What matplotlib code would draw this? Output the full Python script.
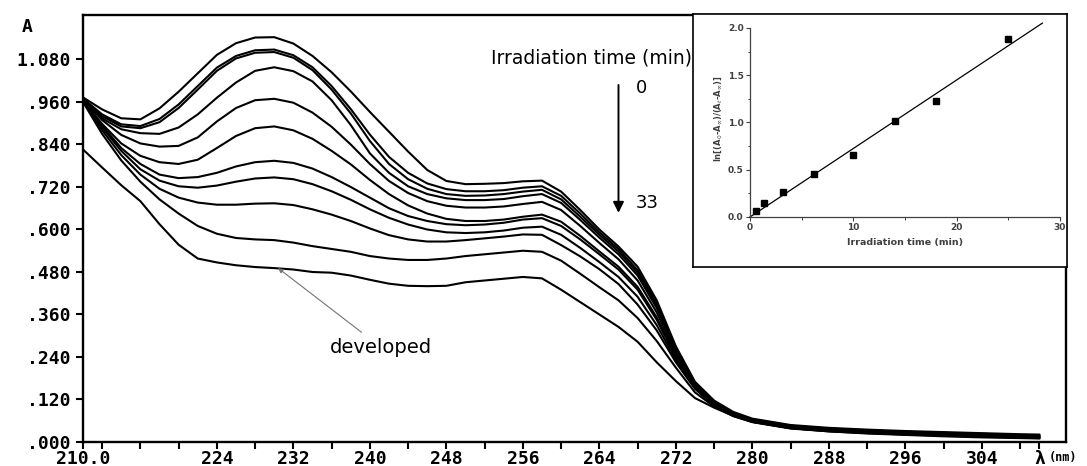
import numpy as np
import matplotlib.pyplot as plt
from matplotlib.ticker import FixedLocator, FuncFormatter, MultipleLocator

# ------------------------------------------------------------
# data (absorbance vs wavelength)
# ------------------------------------------------------------
wavelength = [210, 212, 214, 216, 218, 220, 222, 224, 226, 228,
              230, 232, 234, 236, 238, 240, 242, 244, 246, 248,
              250, 252, 254, 256, 258, 260, 262, 264, 266, 268,
              270, 272, 274, 276, 278, 280,
              284, 288, 292, 296, 300, 304, 308, 310]

abs_1 = [0.973, 0.939, 0.914, 0.911, 0.942, 0.989, 1.041, 1.093, 1.126, 1.142,
         1.143, 1.125, 1.090, 1.044, 0.990, 0.932, 0.876, 0.820, 0.768, 0.737,
         0.728, 0.729, 0.731, 0.736, 0.738, 0.707, 0.655, 0.600, 0.552, 0.495,
         0.400, 0.270, 0.170, 0.117, 0.085, 0.066,
         0.048, 0.040, 0.035, 0.031, 0.028, 0.025, 0.022, 0.021]
abs_2 = [0.970, 0.925, 0.897, 0.892, 0.912, 0.953, 1.005, 1.057, 1.090, 1.106,
         1.108, 1.092, 1.058, 1.005, 0.940, 0.868, 0.805, 0.760, 0.730, 0.714,
         0.708, 0.708, 0.711, 0.718, 0.722, 0.695, 0.645, 0.592, 0.545, 0.485,
         0.392, 0.266, 0.167, 0.114, 0.083, 0.064,
         0.046, 0.038, 0.033, 0.029, 0.026, 0.023, 0.020, 0.019]
abs_3 = [0.968, 0.920, 0.891, 0.886, 0.903, 0.943, 0.995, 1.048, 1.083, 1.099,
         1.101, 1.085, 1.050, 0.995, 0.928, 0.850, 0.785, 0.742, 0.715, 0.700,
         0.695, 0.696, 0.700, 0.707, 0.712, 0.685, 0.636, 0.585, 0.538, 0.478,
         0.385, 0.262, 0.165, 0.112, 0.081, 0.063,
         0.045, 0.037, 0.032, 0.028, 0.025, 0.022, 0.019, 0.018]
abs_4 = [0.966, 0.914, 0.883, 0.872, 0.870, 0.888, 0.925, 0.972, 1.015, 1.048,
         1.058, 1.047, 1.018, 0.965, 0.895, 0.815, 0.760, 0.722, 0.700, 0.688,
         0.683, 0.683, 0.686, 0.694, 0.700, 0.675, 0.627, 0.577, 0.530, 0.470,
         0.378, 0.257, 0.163, 0.110, 0.080, 0.062,
         0.044, 0.036, 0.031, 0.027, 0.024, 0.021, 0.018, 0.017]
abs_5 = [0.966, 0.909, 0.867, 0.843, 0.834, 0.836, 0.860, 0.905, 0.943, 0.965,
         0.969, 0.958, 0.930, 0.890, 0.840, 0.785, 0.737, 0.703, 0.680, 0.667,
         0.662, 0.662, 0.665, 0.672, 0.678, 0.655, 0.610, 0.562, 0.516, 0.456,
         0.366, 0.250, 0.160, 0.108, 0.079, 0.061,
         0.043, 0.035, 0.030, 0.026, 0.023, 0.020, 0.017, 0.016]
abs_6 = [0.964, 0.898, 0.843, 0.808, 0.790, 0.785, 0.797, 0.830, 0.864, 0.886,
         0.891, 0.880, 0.856, 0.822, 0.784, 0.740, 0.700, 0.668, 0.645, 0.630,
         0.624, 0.624, 0.628, 0.636, 0.642, 0.622, 0.582, 0.538, 0.495, 0.438,
         0.352, 0.243, 0.157, 0.106, 0.077, 0.060,
         0.042, 0.034, 0.029, 0.025, 0.022, 0.019, 0.016, 0.015]
abs_7 = [0.964, 0.893, 0.830, 0.785, 0.755, 0.745, 0.748, 0.760, 0.778, 0.790,
         0.794, 0.788, 0.772, 0.748, 0.720, 0.690, 0.660, 0.638, 0.624, 0.615,
         0.612, 0.614, 0.619, 0.628, 0.632, 0.610, 0.572, 0.530, 0.487, 0.430,
         0.345, 0.238, 0.155, 0.105, 0.076, 0.059,
         0.041, 0.033, 0.028, 0.024, 0.021, 0.018, 0.015, 0.014]
abs_8 = [0.963, 0.888, 0.822, 0.770, 0.738, 0.722, 0.718, 0.724, 0.735, 0.744,
         0.747, 0.742, 0.728, 0.708, 0.684, 0.657, 0.633, 0.614, 0.600, 0.592,
         0.590, 0.592, 0.597, 0.605, 0.608, 0.585, 0.548, 0.508, 0.466, 0.410,
         0.330, 0.232, 0.153, 0.104, 0.075, 0.058,
         0.040, 0.032, 0.027, 0.023, 0.020, 0.017, 0.014, 0.013]
abs_9 = [0.962, 0.880, 0.810, 0.755, 0.715, 0.690, 0.676, 0.670, 0.670, 0.673,
         0.674, 0.669, 0.657, 0.642, 0.624, 0.603, 0.584, 0.572, 0.566, 0.566,
         0.570, 0.575, 0.580, 0.586, 0.585, 0.556, 0.524, 0.488, 0.446, 0.388,
         0.315, 0.225, 0.150, 0.102, 0.074, 0.057,
         0.039, 0.031, 0.026, 0.022, 0.019, 0.016, 0.013, 0.012]
abs_10 = [0.960, 0.870, 0.795, 0.735, 0.685, 0.645, 0.610, 0.588, 0.576, 0.572,
          0.570, 0.563, 0.553, 0.545, 0.537, 0.525, 0.518, 0.514, 0.514, 0.518,
          0.525, 0.530, 0.535, 0.540, 0.537, 0.512, 0.475, 0.437, 0.400, 0.350,
          0.285, 0.210, 0.140, 0.100, 0.073, 0.056,
          0.038, 0.030, 0.025, 0.021, 0.018, 0.015, 0.012, 0.011]
abs_developed = [0.826, 0.775, 0.725, 0.680, 0.615, 0.557, 0.518, 0.507, 0.499, 0.494,
                 0.491, 0.487, 0.480, 0.478, 0.470, 0.458, 0.447, 0.441, 0.440, 0.441,
                 0.451, 0.456, 0.461, 0.466, 0.462, 0.430, 0.395, 0.360, 0.325, 0.283,
                 0.225, 0.172, 0.124, 0.097, 0.074, 0.057,
                 0.039, 0.030, 0.024, 0.020, 0.016, 0.013, 0.011, 0.010]

spectra = [abs_1, abs_2, abs_3, abs_4, abs_5, abs_6, abs_7, abs_8,
           abs_9, abs_10, abs_developed]

# inset: kinetics
irr_time = [0.6, 1.4, 3.2, 6.2, 10.0, 14.0, 18.0, 25.0]
ln_ratio = [0.06, 0.15, 0.26, 0.46, 0.66, 1.02, 1.23, 1.88]

y_ticks = [0.0, 0.12, 0.24, 0.36, 0.48, 0.60, 0.72, 0.84, 0.96, 1.08]
x_labelled = [224, 232, 240, 248, 256, 264, 272, 280, 288, 296, 304]

# ------------------------------------------------------------
# figure
# ------------------------------------------------------------
W, H = 1087, 466
fig = plt.figure(figsize=(W / 100, H / 100), dpi=100)

MONO = "DejaVu Sans Mono"

ax = fig.add_axes([83 / W, 24 / H, (1066 - 83) / W, (442 - 15) / H])
for y in spectra:
    ax.plot(wavelength, y, color="black", lw=1.5, solid_joinstyle="round")

ax.set_xlim(210, 312.8)
ax.set_ylim(0, 1.2056)

for s in ax.spines.values():
    s.set_linewidth(1.7)

ax.yaxis.set_major_locator(FixedLocator(y_ticks))
ax.yaxis.set_major_formatter(FuncFormatter(
    lambda v, p: f"{v:.3f}" if v >= 1 else f"{v:.3f}"[1:]))

xt = [210] + list(range(212, 309, 4)) + [310]
ax.set_xticks(xt)
xlab = []
for v in xt:
    if v == 210:
        xlab.append("210.0")
    elif v == 310:
        xlab.append("λ")
    elif v in x_labelled:
        xlab.append(str(v))
    else:
        xlab.append("")
ax.set_xticklabels(xlab)
ax.tick_params(direction="out", length=5, width=1.5)
ax.tick_params(axis="x", pad=0.5)
ax.tick_params(axis="y", pad=4)
for lab in ax.get_xticklabels() + ax.get_yticklabels():
    lab.set_fontfamily(MONO)
    lab.set_fontweight("bold")
    lab.set_fontsize(13)

fig.text(1049 / W, 1 - 457 / H, "(nm)", family=MONO,
         weight="bold", fontsize=8.5, ha="left", va="center")
fig.text(27 / W, 1 - 27 / H, "A", family=MONO,
         weight="bold", fontsize=13, ha="center", va="center")

# annotations
ax.text(263.2, 1.084, "Irradiation time (min)", fontsize=13.5,
        ha="center", va="center", family="DejaVu Sans")
ax.annotate("", xy=(266.0, 0.647), xytext=(266.0, 1.008),
            arrowprops=dict(arrowstyle="-|>", lw=1.4, color="black",
                            mutation_scale=16, shrinkA=0, shrinkB=0))
ax.text(267.8, 1.0, "0", fontsize=13, ha="left", va="center")
ax.text(267.8, 0.675, "33", fontsize=13, ha="left", va="center")

ax.annotate("developed", xy=(230.4, 0.491), xytext=(235.8, 0.268),
            fontsize=14, ha="left", va="center", family="DejaVu Sans",
            arrowprops=dict(arrowstyle="-|>", lw=0.8, color="0.45",
                            mutation_scale=7, shrinkA=3, shrinkB=0))

# ------------------------------------------------------------
# inset
# ------------------------------------------------------------
frame = fig.add_axes([693 / W, (H - 267) / H, (1067 - 693) / W, (267 - 14) / H])
frame.set_xticks([])
frame.set_yticks([])
frame.set_facecolor("white")
for s in frame.spines.values():
    s.set_linewidth(1.2)

ins = fig.add_axes([750 / W, (H - 217) / H, 310 / W, 196.6 / H])
ins.set_facecolor("none")
t = np.array(irr_time)
r = np.array(ln_ratio)
k = np.sum(t * r) / np.sum(t * t)
tline = np.linspace(0, 28.3, 50)
ins.plot(tline, k * tline, color="black", lw=0.9, clip_on=False)
ins.plot(irr_time, ln_ratio, "s", color="black", ms=4.5)

ins.set_xlim(0, 30)
ins.set_ylim(0, 2.08)
ins.spines["top"].set_visible(False)
ins.spines["right"].set_visible(False)
ins.spines["left"].set_bounds(0, 2.0)
for s in ("left", "bottom"):
    ins.spines[s].set_linewidth(0.9)
    ins.spines[s].set_color("0.25")
ins.xaxis.set_major_locator(MultipleLocator(10))
ins.xaxis.set_minor_locator(MultipleLocator(5))
ins.yaxis.set_major_locator(FixedLocator([0.0, 0.5, 1.0, 1.5, 2.0]))
ins.yaxis.set_minor_locator(FixedLocator([0.25, 0.75, 1.25, 1.75]))
ins.yaxis.set_major_formatter(FuncFormatter(lambda v, p: f"{v:.1f}"))
ins.tick_params(which="major", length=3, width=0.8, pad=1.5,
                labelsize=6.5, colors="0.25")
ins.tick_params(which="minor", length=1.8, width=0.7, colors="0.25")
for lab in ins.get_xticklabels() + ins.get_yticklabels():
    lab.set_fontweight("bold")
ins.set_xlabel("Irradiation time (min)", fontsize=6.8, fontweight="bold",
               color="0.25", labelpad=4)
ins.set_ylabel(r"ln[(A$_0$-A$_\infty$)/(A$_t$-A$_\infty$)]", fontsize=6,
               fontweight="bold", color="0.25", labelpad=3)

fig.savefig("out.png", dpi=100)
